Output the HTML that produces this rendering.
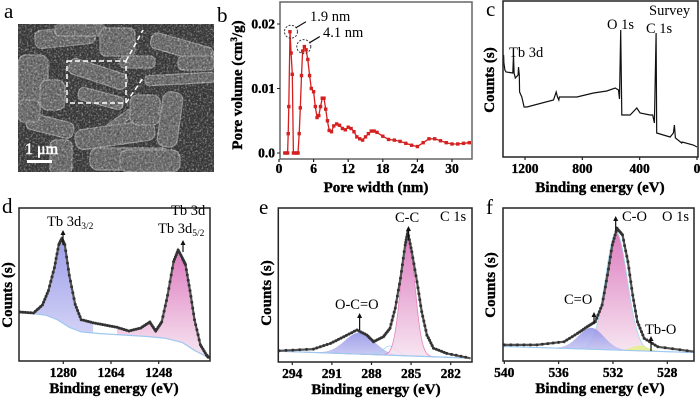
<!DOCTYPE html>
<html><head><meta charset="utf-8">
<style>
html,body{margin:0;padding:0;background:#fff;}
</style></head><body>
<svg id="fig" width="700" height="401" viewBox="0 0 700 401" xmlns="http://www.w3.org/2000/svg" font-family="Liberation Serif, serif">
<defs>
<filter id="noise" x="0" y="0" width="100%" height="100%">
<feTurbulence type="fractalNoise" baseFrequency="0.55" numOctaves="2" seed="4"/>
<feColorMatrix type="matrix" values="0 0 0 0 1  0 0 0 0 1  0 0 0 0 1  1.6 0 0 0 -0.75"/>
<feComposite in2="SourceGraphic" operator="in"/>
</filter>
<filter id="noiseDark" x="0" y="0" width="100%" height="100%">
<feTurbulence type="fractalNoise" baseFrequency="0.45" numOctaves="2" seed="9"/>
<feColorMatrix type="matrix" values="0 0 0 0 0  0 0 0 0 0  0 0 0 0 0  1.8 0 0 0 -0.8"/>
<feComposite in2="SourceGraphic" operator="in"/>
</filter>
<linearGradient id="gBlue" x1="0" y1="0" x2="0" y2="1"><stop offset="0" stop-color="#8f8fe6"/><stop offset="1" stop-color="#c9c9f4"/></linearGradient>
<linearGradient id="gPink" x1="0" y1="0" x2="0" y2="1"><stop offset="0" stop-color="#d867b5"/><stop offset="1" stop-color="#f6e3f0"/></linearGradient>
<clipPath id="semclip"><rect x="18" y="24" width="196" height="148"/></clipPath>
</defs>

<g clip-path="url(#semclip)">
<rect x="18" y="24" width="196" height="148" fill="#3e3e3e"/>
<g fill="#6e6e6e" stroke="#9a9a9a" stroke-width="1.2">
<rect x="18" y="55" width="30" height="50" rx="8"/>
<rect x="35" y="28" width="60" height="18" rx="6" transform="rotate(-6 65 37)"/>
<rect x="55" y="24" width="50" height="12" rx="5"/>
<rect x="100" y="28" width="35" height="28" rx="6"/>
<rect x="150" y="40" width="64" height="16" rx="6" transform="rotate(16 182 48)"/>
<rect x="145" y="74" width="70" height="10" rx="4" transform="rotate(-3 180 79)"/>
<rect x="68" y="66" width="60" height="16" rx="6" transform="rotate(18 98 74)"/>
<rect x="78" y="92" width="46" height="13" rx="5" transform="rotate(15 101 98)"/>
<rect x="160" y="92" width="20" height="55" rx="8" transform="rotate(8 170 120)"/>
<rect x="26" y="118" width="48" height="16" rx="6" transform="rotate(14 50 126)"/>
<rect x="50" y="140" width="22" height="34" rx="6"/>
<rect x="100" y="118" width="36" height="8" rx="3" transform="rotate(-35 118 122)"/>
<rect x="18" y="100" width="22" height="22" rx="6"/>
<rect x="75" y="125" width="80" height="20" rx="8" transform="rotate(-8 115 135)"/>
<rect x="90" y="148" width="80" height="22" rx="8"/>
<rect x="130" y="95" width="30" height="30" rx="8"/>
<rect x="178" y="56" width="36" height="14" rx="5"/>
<rect x="120" y="56" width="35" height="12" rx="5"/>
<rect x="40" y="80" width="25" height="30" rx="8"/>
<rect x="120" y="150" width="60" height="22" rx="8"/>
</g>
<rect x="18" y="24" width="196" height="148" fill="#fff" filter="url(#noise)" opacity="0.8"/>
<rect x="18" y="24" width="196" height="148" fill="#000" filter="url(#noiseDark)" opacity="0.5"/>
<rect x="67" y="61" width="59" height="42" fill="none" stroke="#fff" stroke-width="1.5" stroke-dasharray="5,3"/>
<line x1="126" y1="61" x2="143" y2="30" stroke="#fff" stroke-width="1.5" stroke-dasharray="5,3"/>
<line x1="126" y1="103" x2="143" y2="78" stroke="#fff" stroke-width="1.5" stroke-dasharray="5,3"/>
<text x="25" y="154" fill="#fff" stroke="#fff" stroke-width="0.6" font-size="16" font-family="Liberation Serif, serif">1 μm</text>
<rect x="27" y="160" width="25" height="3" fill="#fff"/>
</g>
<text x="4" y="18" font-size="21" font-family="Liberation Serif, serif">a</text>

<g id="plots" font-family="Liberation Serif, serif"></g>
</svg>
<script>
// ---------- Panel b data ----------
const bWidth=[1.0,1.3,1.5,1.6,1.7,1.9,2.1,2.3,2.5,2.8,3.1,3.3,3.5,3.7,3.9,4.1,4.4,4.7,5.0,5.3,5.6,6.0,6.3,6.6,6.9,7.2,7.5,7.8,8.1,8.4,8.7,9.1,9.5,10,10.5,11,11.5,12,12.5,13,13.5,14,14.5,15,15.5,16,16.5,17,18,19,20,21,22,23,24,25,26,27,28,29,30,31,32,33];
const bVol=[0,0,0,0.003,0.0072,0.0188,0.0155,0.0122,0,0,0,0,0.003,0.007,0.012,0.0158,0.0165,0.016,0.0145,0.012,0.010,0.0095,0.0072,0.0055,0.0058,0.0072,0.0085,0.0085,0.0068,0.005,0.0035,0.0033,0.0042,0.0045,0.0043,0.0038,0.0036,0.004,0.0038,0.0033,0.0025,0.0022,0.002,0.0025,0.003,0.0034,0.0034,0.0032,0.0026,0.0021,0.002,0.0018,0.0015,0.0012,0.001,0.0016,0.0022,0.0022,0.0019,0.0016,0.0014,0.0014,0.0015,0.0016];
const bXTicks=[0,6,12,18,24,30];
const bYTicks=[0,0.01,0.02];
const bYTickLabels=["0.0","0.01","0.02"];
// ---------- Panel c data ----------
const cEnergy=[1349,1347,1340,1332,1285,1280,1276,1268,1248,1245,1240,1238,1222,1206,1187,1001,982,973,964,960,838,722,629,571,548,541,532,525,467,420,397,328,309,297,285,281,188,165,158,151,107,104,26,0];
const cCounts=[102,94,87,85,84,102,84,79,82,90,82,65,60,50,50,57,65,60,57,60,60,64,66,69,67,58,127,42,42,49,44,42,42,34,124,24,20,24,32,19,14,15,12,10];
const cXTicks=[1200,800,400,0];
// ---------- Panel d data ----------
const dEnergy=[1294.5,1290,1287,1285,1283,1281.5,1280.5,1279.5,1278,1276,1274,1270,1266,1262,1258,1254,1251,1249,1247,1245,1243,1241.5,1240,1239,1237.5,1236,1234,1232,1231.2];
const dCounts=[32,31.4,36.6,46,61,76,80,76,56,37,27,25,23.5,22,19.6,21.6,25.5,19.6,25.5,43,65,72.5,67,63,46,27,10.5,4,2];
const dBgEnergy=[1294.5,1286,1282,1278,1274,1268,1260,1252,1246,1240,1236,1231.2];
const dBgCounts=[32,30,27,22,19,18,17,16,15,12,7,2];
const dXTicks=[1280,1264,1248];
// ---------- Panel e data ----------
const eEnergy=[295.0,292.4,291.1,290.1,289.1,288.35,287.85,287.1,286.6,286.2,285.8,285.45,285.25,284.95,284.55,284.2,283.8,283.3,282.3,280.5];
const eCounts=[7.3,8.4,12.1,16.4,20.8,17.5,13.2,16.4,21.9,35,54.5,76,84.6,71.6,52.1,32.7,17.5,8.9,5.6,2.4];
const ePeakNames=["O-C=O","C-C","C-O"];
const ePeakCenter=[288.9,285.25,286.6];
const ePeakHeight=[14,78,6];
const ePeakFwhm=[2.6,1.25,1.2];
const eBg=[7,2.5];
const eXTicks=[294,291,288,285,282];
// ---------- Panel f data ----------
const fEnergy=[540.0,537.6,535.6,534.6,533.9,533.3,532.8,532.4,532.05,531.7,531.3,530.9,530.55,530.2,529.7,528.7,526.0];
const fCounts=[10.5,10.5,12.6,18.1,22.4,25.7,36.6,56.2,75.8,86.7,82.4,65,43.1,25.7,14.8,9.3,6.1];
const fPeakNames=["C=O","C-O","Tb-O"];
const fPeakCenter=[533.6,531.75,530.0];
const fPeakHeight=[14,77,3.5];
const fPeakFwhm=[2.2,1.9,1.4];
const fBg=[9.5,5.5];
const fXTicks=[540,536,532,528];

const NS="http://www.w3.org/2000/svg";
const root=document.getElementById('plots');
const STY={
 tk:{'font-size':'13.5','font-weight':'bold',stroke:'#000','stroke-width':'0.35'},
 tt:{'font-size':'15','font-weight':'bold',stroke:'#000','stroke-width':'0.4'},
 an:{'font-size':'14.5'},
 pl:{'font-size':'21'}
};
function el(tag,attrs,parent,text){const e=document.createElementNS(NS,tag);for(const k in attrs)e.setAttribute(k,attrs[k]);if(tag==='text'){e.setAttribute('font-family','Liberation Serif, Times New Roman, serif');e.style.fontFamily='"Liberation Serif","Times New Roman",serif';}if(text!==undefined)e.textContent=text;(parent||root).appendChild(e);return e;}
function scale(d0,d1,r0,r1){return v=>r0+(v-d0)*(r1-r0)/(d1-d0);}
function pathOf(xs,ys,sx,sy){return xs.map((x,i)=>(i?'L':'M')+sx(x).toFixed(1)+','+sy(ys[i]).toFixed(1)).join('');}
function interp(xs,ys,x){for(let i=0;i<xs.length-1;i++){const a=xs[i],b=xs[i+1];if((x-a)*(x-b)<=0){const t=(x-a)/(b-a);return ys[i]+t*(ys[i+1]-ys[i]);}}return ys[ys.length-1];}
function gauss(x,c,h,w){const s=w/2.3548;return h*Math.exp(-(x-c)*(x-c)/(2*s*s));}

function frame(g,x0,y0,x1,y1,color){const r=el('rect',{x:x0,y:y0,width:x1-x0,height:y1-y0,fill:'none',stroke:color||'#222','stroke-width':1.5},g);}
function txt(g,x,y,s,cls,name,extra){const t=el('text',Object.assign({x:x,y:y},STY[cls],extra||{}),g,s);return t;}
function xTicks(g,ticks,labels,sx,yb,ly){ticks.forEach((t,i)=>{const ln=el('line',{x1:sx(t),x2:sx(t),y1:yb,y2:yb+3,stroke:'#222','stroke-width':1.2},g);txt(g,sx(t),ly,labels[i],'tk','x-tick-label',{'text-anchor':'middle'});});}
function arrow(g,x,y1,y2,name){const a=el('path',{d:`M${x},${y1}L${x},${y2+4}`,stroke:'#111','stroke-width':1.2},g);const h=el('path',{d:`M${x-2.5},${y2+5}L${x},${y2}L${x+2.5},${y2+5}Z`,fill:'#111'},g);}
function dataSeries(g,xs,ys,sx,sy,name,dotR){const p=el('path',{d:pathOf(xs,ys,sx,sy),fill:'none',stroke:'#555','stroke-width':2.2},g);
 for(let i=0;i<xs.length-1;i++){const n=5;for(let k=0;k<n;k++){const t=k/n;const x=xs[i]+t*(xs[i+1]-xs[i]);const y=ys[i]+t*(ys[i+1]-ys[i]);const c=el('circle',{cx:sx(x).toFixed(1),cy:sy(y).toFixed(1),r:dotR||1.6,fill:'#333'},g);}}}

// ===== Panel b =====
(function(){
const g=el('g',{});
const sx=scale(0,30,279,452), sy=scale(0,0.02,153,24);
frame(g,280,2,472,159,'#666');
xTicks(g,bXTicks,bXTicks.map(String),sx,159,173);
bYTicks.forEach((t,i)=>{const ln=el('line',{x1:280,x2:277,y1:sy(t),y2:sy(t),stroke:'#222'},g);txt(g,275,sy(t)+4.5,bYTickLabels[i],'tk','y-tick-label',{'text-anchor':'end'});});
txt(g,376,192,'Pore width (nm)','tt','x-axis-title',{'text-anchor':'middle'});
const yt=txt(g,0,0,'','tt','y-axis-title',{'text-anchor':'middle',transform:'translate(242,85) rotate(-90)'});
yt.innerHTML='Pore volume (cm<tspan font-size="9" dy="-5">3</tspan><tspan dy="5">/g)</tspan>';
const p=el('path',{d:pathOf(bWidth,bVol,sx,sy),fill:'none',stroke:'#d42020','stroke-width':1.3},g);
bWidth.forEach((w,i)=>{const r=el('rect',{x:sx(w)-1.7,y:sy(bVol[i])-1.7,width:3.4,height:3.4,fill:'#d42020'},g);});
const c1=el('circle',{cx:sx(1.9)+1,cy:sy(0.0188),r:6.5,fill:'none',stroke:'#333','stroke-dasharray':'2,1.5'},g);
const c2=el('circle',{cx:sx(4.3),cy:sy(0.0165),r:7,fill:'none',stroke:'#333','stroke-dasharray':'2,1.5'},g);
const a1=el('path',{d:`M${sx(1.9)+6},${sy(0.0188)-4}L${sx(1.9)+16},${sy(0.0188)-10}`,stroke:'#111','stroke-width':1.2,fill:'none'},g);
const a2=el('path',{d:`M${sx(4.3)+6},${sy(0.0165)-4}L${sx(4.3)+16},${sy(0.0165)-10}`,stroke:'#111','stroke-width':1.2,fill:'none'},g);
txt(g,310,21,'1.9 nm','an','peak-label-1');
txt(g,323,37,'4.1 nm','an','peak-label-2');
txt(g,217,22,'b','pl','panel-label-b');
})();

// ===== Panel c =====
(function(){
const g=el('g',{});
const sx=scale(1200,0,525,697), sy=scale(0,156,157,1);
const p=el('path',{d:pathOf(cEnergy,cCounts,sx,sy),fill:'none',stroke:'#111','stroke-width':1.2},g);
frame(g,503,1,698,157);
xTicks(g,cXTicks,cXTicks.map(String),sx,157,173);
txt(g,600,192,'Binding energy (eV)','tt','x-axis-title',{'text-anchor':'middle'});
txt(g,0,0,'Counts (s)','tt','y-axis-title',{'text-anchor':'middle',transform:'translate(494,80) rotate(-90)'});
txt(g,509,57,'Tb 3d','an','tb3d-label');
txt(g,607,29,'O 1s','an','o1s-label');
txt(g,649,15,'Survey','an','survey-label');
txt(g,646,33,'C 1s','an','c1s-label');
txt(g,486,16,'c','pl','panel-label-c');
})();

// ===== Panel d =====
(function(){
const g=el('g',{});
const sx=scale(1280,1248,63.3,158.7), sy=scale(0,100,361,208);
function fillBetween(lo,hi,fill,name){const xs=dEnergy.filter(e=>e<=lo&&e>=hi);const top=xs.map(e=>[sx(e),sy(interp(dEnergy,dCounts,e)*0.97)]);const bot=xs.slice().reverse().map(e=>[sx(e),sy(interp(dBgEnergy,dBgCounts,e))]);const d='M'+top.concat(bot).map(p=>p[0].toFixed(1)+','+p[1].toFixed(1)).join('L')+'Z';const f=el('path',{d:d,fill:fill,opacity:0.85},g);}
fillBetween(1294.5,1270,'url(#gBlue)','tb3d32-fill');
fillBetween(1262,1231.2,'url(#gPink)','tb3d52-fill');
const bg=el('path',{d:pathOf(dBgEnergy,dBgCounts,sx,sy),fill:'none',stroke:'#9fc8f0','stroke-width':1.2},g);
dataSeries(g,dEnergy,dCounts,sx,sy,'tb3d-spectrum',1.5);
frame(g,19,208,210,361);
xTicks(g,dXTicks,dXTicks.map(String),sx,361,377);
txt(g,114,393,'Binding energy (eV)','tt','x-axis-title',{'text-anchor':'middle'});
txt(g,0,0,'Counts (s)','tt','y-axis-title',{'text-anchor':'middle',transform:'translate(12,295) rotate(-90)'});
const l1=txt(g,47,226,'Tb 3d','an','tb3d32-label');l1.innerHTML='Tb 3d<tspan font-size="9.5" dy="3">3/2</tspan>';
arrow(g,63,245,230,'tb3d32-arrow');
txt(g,171,215,'Tb 3d','an','tb3d-label');
const l2=txt(g,158,233,'Tb 3d','an','tb3d52-label');l2.innerHTML='Tb 3d<tspan font-size="9.5" dy="3">5/2</tspan>';
arrow(g,183,252,240,'tb3d52-arrow');
txt(g,2,213,'d','pl','panel-label-d');
})();

function fitted(opt){
const g=el('g',{});
const sx=opt.sx, sy=opt.sy;
const e0=opt.energy[0], e1=opt.energy[opt.energy.length-1];
const bgAt=e=>opt.bg[0]+(e-e0)*(opt.bg[1]-opt.bg[0])/(e1-e0);
opt.order.forEach(k=>{const pts=[];for(let i=0;i<=200;i++){const e=e0+(e1-e0)*i/200;pts.push([e,bgAt(e)+gauss(e,opt.center[k],opt.height[k],opt.fwhm[k])]);}
 const d='M'+pts.map(p=>sx(p[0]).toFixed(1)+','+sy(p[1]).toFixed(1)).join('L')+'L'+sx(e1)+','+sy(bgAt(e1))+'L'+sx(e0)+','+sy(bgAt(e0))+'Z';
 const f=el('path',{d:d,fill:opt.fillFor[k],opacity:0.85,stroke:opt.strokeFor[k],'stroke-width':0.8},g);});
const b=el('path',{d:`M${sx(e0)},${sy(bgAt(e0))}L${sx(e1)},${sy(bgAt(e1))}`,stroke:'#9fc8f0','stroke-width':1.2},g);
dataSeries(g,opt.energy,opt.counts,sx,sy,opt.name+'-data',1.5);
return g;}

// ===== Panel e =====
(function(){
const sx=scale(294,282,292.3,450.7), sy=scale(0,100,362,208);
const g=fitted({name:'c1s-chart',sx:sx,sy:sy,energy:eEnergy,counts:eCounts,bg:eBg,center:ePeakCenter,height:ePeakHeight,fwhm:ePeakFwhm,names:ePeakNames,order:[0,2,1],fillFor:['url(#gBlue)','url(#gPink)','none'],strokeFor:['none','#e070b0','#8fd4f0']});
frame(g,278.3,208,472,362);
xTicks(g,eXTicks,eXTicks.map(String),sx,362,378);
txt(g,376,394,'Binding energy (eV)','tt','x-axis-title',{'text-anchor':'middle'});
txt(g,0,0,'Counts (s)','tt','y-axis-title',{'text-anchor':'middle',transform:'translate(271,293) rotate(-90)'});
txt(g,395,222,'C-C','an','cc-label');
arrow(g,sx(285.2),240,226,'cc-arrow');
txt(g,440,221,'C 1s','an','c1s-label');
txt(g,335,309,'O-C=O','an','ococ-label');
arrow(g,sx(288.9),330,313,'ococ-arrow');
txt(g,259,214,'e','pl','panel-label-e');
})();

// ===== Panel f =====
(function(){
const sx=scale(540,528,504.3,667.3), sy=scale(0,100,361,208);
const g=fitted({name:'o1s-chart',sx:sx,sy:sy,energy:fEnergy,counts:fCounts,bg:fBg,center:fPeakCenter,height:fPeakHeight,fwhm:fPeakFwhm,names:fPeakNames,order:[1,0,2],fillFor:['url(#gBlue)','url(#gPink)','#e3f08a'],strokeFor:['none','#8fd4f0','none']});
frame(g,503,208,694,361);
xTicks(g,fXTicks,fXTicks.map(String),sx,361,377);
txt(g,600,393,'Binding energy (eV)','tt','x-axis-title',{'text-anchor':'middle'});
txt(g,0,0,'Counts (s)','tt','y-axis-title',{'text-anchor':'middle',transform:'translate(495,285) rotate(-90)'});
txt(g,622,221,'C-O','an','co-label');
arrow(g,sx(531.8),231,216,'co-arrow');
txt(g,662,221,'O 1s','an','o1s-label');
txt(g,564,304,'C=O','an','cdo-label');
arrow(g,594,324,312,'cdo-arrow');
txt(g,645,334,'Tb-O','an','tbo-label');
arrow(g,651,351,336,'tbo-arrow');
txt(g,486,214,'f','pl','panel-label-f');
})();
</script>
</body></html>
